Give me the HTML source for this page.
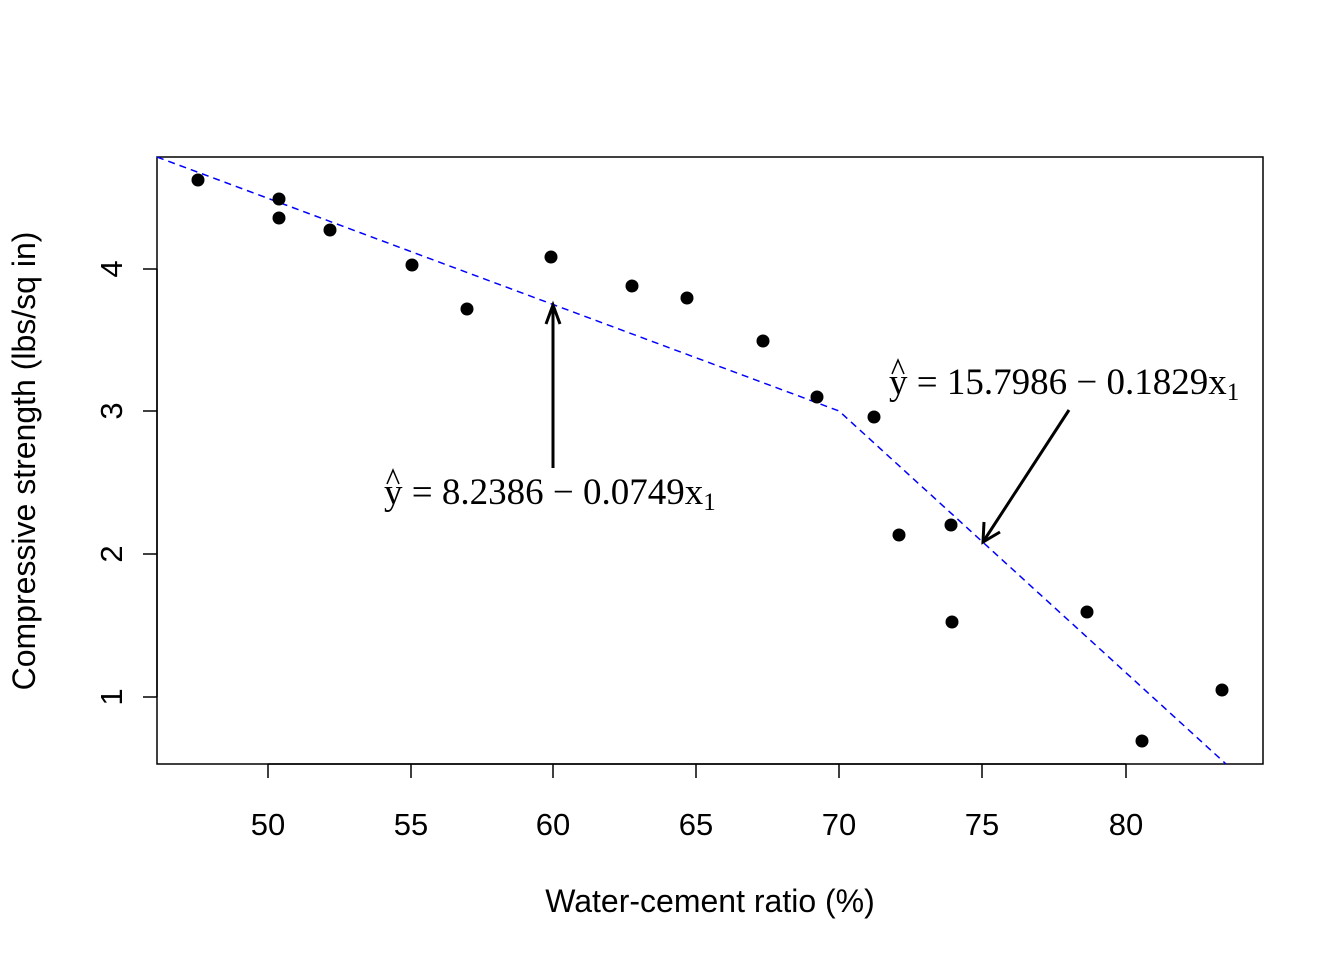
<!DOCTYPE html>
<html><head><meta charset="utf-8"><style>body{margin:0;background:#fff}svg{display:block}</style></head><body>
<svg width="1344" height="960" xmlns="http://www.w3.org/2000/svg">
<rect x="157" y="157" width="1106" height="607" fill="none" stroke="#000" stroke-width="1.5"/>
<g stroke="#000" stroke-width="1.5">
<line x1="268" y1="764" x2="1126" y2="764"/>
<line x1="268" y1="764" x2="268" y2="778"/><line x1="411" y1="764" x2="411" y2="778"/><line x1="553" y1="764" x2="553" y2="778"/><line x1="696" y1="764" x2="696" y2="778"/><line x1="839" y1="764" x2="839" y2="778"/><line x1="982" y1="764" x2="982" y2="778"/><line x1="1126" y1="764" x2="1126" y2="778"/>
<line x1="157" y1="269" x2="157" y2="697"/>
<line x1="143" y1="269" x2="157" y2="269"/><line x1="143" y1="411" x2="157" y2="411"/><line x1="143" y1="554" x2="157" y2="554"/><line x1="143" y1="697" x2="157" y2="697"/>
</g>
<g font-family="Liberation Sans, sans-serif" font-size="31" text-anchor="middle">
<text x="268" y="835">50</text><text x="411" y="835">55</text><text x="553" y="835">60</text><text x="696" y="835">65</text><text x="839" y="835">70</text><text x="982" y="835">75</text><text x="1126" y="835">80</text>
<text transform="translate(122,269) rotate(-90)">4</text><text transform="translate(122,411) rotate(-90)">3</text><text transform="translate(122,554) rotate(-90)">2</text><text transform="translate(122,697) rotate(-90)">1</text>
<text x="710" y="912" font-size="32">Water-cement ratio (%)</text>
<text transform="translate(35,461) rotate(-90)" font-size="32">Compressive strength (lbs/sq in)</text>
</g>
<polyline points="157,157 839,411 1226,764" fill="none" stroke="#0000ff" stroke-width="1.5" stroke-dasharray="7,5"/>
<g fill="#000">
<circle cx="198" cy="180" r="6.5"/><circle cx="279" cy="199" r="6.5"/><circle cx="279" cy="218" r="6.5"/><circle cx="330" cy="230" r="6.5"/><circle cx="412" cy="265" r="6.5"/><circle cx="467" cy="309" r="6.5"/><circle cx="551" cy="257" r="6.5"/><circle cx="632" cy="286" r="6.5"/><circle cx="687" cy="298" r="6.5"/><circle cx="763" cy="341" r="6.5"/><circle cx="817" cy="397" r="6.5"/><circle cx="874" cy="417" r="6.5"/><circle cx="899" cy="535" r="6.5"/><circle cx="951" cy="525" r="6.5"/><circle cx="952" cy="622" r="6.5"/><circle cx="1087" cy="612" r="6.5"/><circle cx="1142" cy="741" r="6.5"/><circle cx="1222" cy="690" r="6.5"/>
</g>
<g stroke="#000" stroke-width="3" fill="none">
<line x1="553" y1="468" x2="553" y2="305"/><polyline points="546,324 553,305 560,324"/>
<line x1="1069" y1="410" x2="983" y2="542"/><polyline points="984,522 983,542 1000,532"/>
</g>
<g font-family="Liberation Serif, serif" font-size="37">
<text x="384" y="504">y = 8.2386 − 0.0749x<tspan font-size="25" dy="6">1</tspan></text>
<polyline points="387,484 393,470 399,484" fill="none" stroke="#000" stroke-width="1.5"/>
<text x="889" y="394">y = 15.7986 − 0.1829x<tspan font-size="25" dy="6">1</tspan></text>
<polyline points="892,374 898,360 904,374" fill="none" stroke="#000" stroke-width="1.5"/>
</g>
</svg>
</body></html>
